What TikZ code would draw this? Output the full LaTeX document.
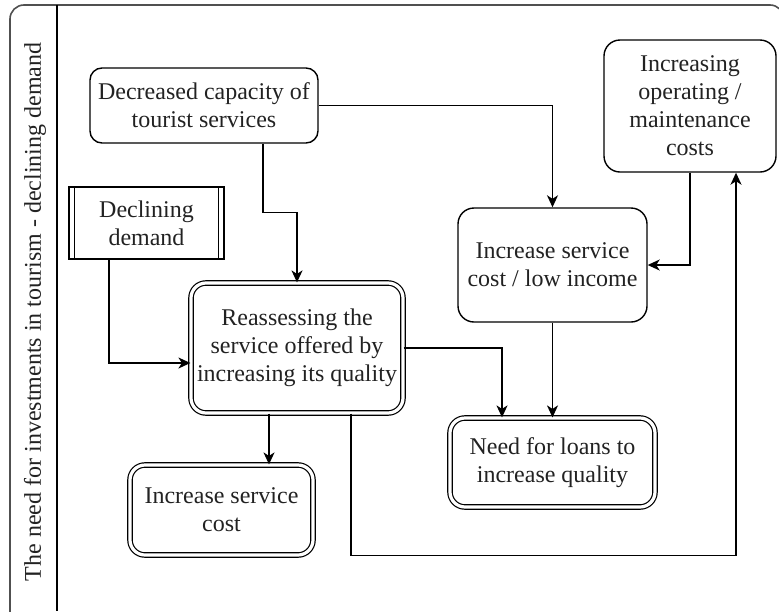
\documentclass[tikz,border=0pt]{standalone}
\usepackage{fontspec}
\setmainfont{Liberation Serif}
\usetikzlibrary{arrows.meta}
\definecolor{txt}{HTML}{222222}
\definecolor{frame}{HTML}{505050}
\begin{document}
\begin{tikzpicture}[x=1pt,y=-1pt,
  lbl/.style={text=txt,align=center,font=\fontsize{24}{28}\selectfont,inner sep=0pt},
  rbox/.style={lbl,draw=black,line width=1.4pt,rounded corners=12pt},
  dbox/.style={lbl,draw=black,line width=1.2pt,double=white,double distance=3.2pt,rounded corners=15pt},
  pbox/.style={lbl,draw=black,line width=1.4pt},
  arr/.style={draw=black,line width=1.5pt,-{Stealth[length=12pt,width=11pt,inset=3.5pt]}}]
\useasboundingbox (0,0) rectangle (779,611);
% outer pool frame with title lane
\begin{scope}
  \clip (0,0) rectangle (779,611);
  \draw[frame,line width=1.6pt,rounded corners=14pt] (10,5) rectangle (784,630);
  \draw[black,line width=1.4pt] (57,5) -- (57,611);
\end{scope}
\node[lbl,rotate=90] (lane) at (35,312) {The need for investments in tourism - declining demand};
% process boxes
\node[rbox,minimum width=228pt,minimum height=75pt] (dec) at (204,105.5) {Decreased capacity of\\tourist services};
\node[pbox,minimum width=155pt,minimum height=72pt] (decl) at (146.5,223) {Declining\\demand};
\draw[black,line width=1.4pt] ([xshift=6pt]decl.north west) -- ([xshift=6pt]decl.south west);
\draw[black,line width=1.4pt] ([xshift=-6pt]decl.north east) -- ([xshift=-6pt]decl.south east);
\node[dbox,minimum width=212pt,minimum height=130pt] (reas) at (297,348) {Reassessing the\\service offered by\\increasing its quality};
\node[dbox,minimum width=183pt,minimum height=90pt] (isc) at (221.5,510) {Increase service\\cost};
\node[rbox,rounded corners=16pt,minimum width=172pt,minimum height=132pt] (iop) at (690,106) {Increasing\\operating /\\maintenance\\costs};
\node[rbox,rounded corners=16pt,minimum width=189pt,minimum height=114pt] (ilow) at (552.5,265) {Increase service\\cost / low income};
\node[dbox,minimum width=205pt,minimum height=89pt] (loan) at (552.5,462.5) {Need for loans to\\increase quality};
% connectors
\draw[arr] (dec.east) -| (ilow.north);
\draw[arr] ([xshift=59pt]dec.south) -- ++(0,69) -| (reas.north);
\draw[arr] ([xshift=-37.5pt]decl.south) |- ([yshift=-15pt]reas.west);
\draw[arr] (iop.south) |- (ilow.east);
\draw[arr] (reas.east) -| ([xshift=-50.5pt]loan.north);
\draw[arr] (ilow.south) -- (loan.north);
\draw[arr] ([xshift=-28pt]reas.south) -- ([xshift=-28pt]reas.south |- isc.north);
\draw[arr] ([xshift=54pt]reas.south) -- ++(0,142) -| ([xshift=46pt]iop.south);
\end{tikzpicture}
\end{document}
